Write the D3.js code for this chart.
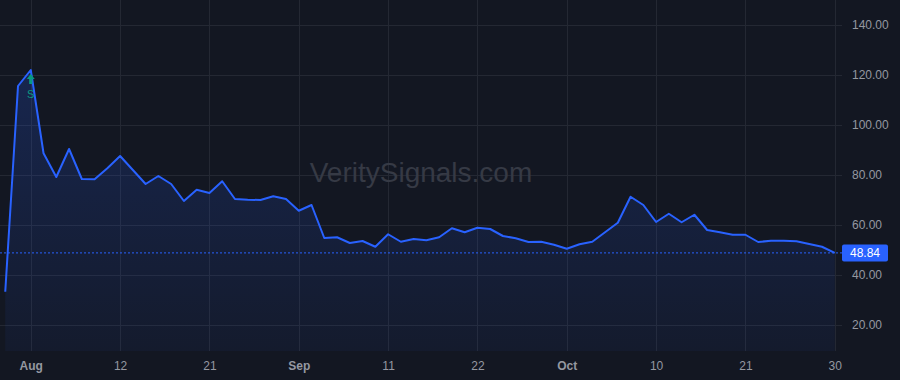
<!DOCTYPE html>
<html>
<head>
<meta charset="utf-8">
<script src="https://cdn.jsdelivr.net/npm/d3@7"></script>
<style>
  html, body { margin: 0; padding: 0; background: #131722; }
  svg { display: block; font-family: "Liberation Sans", Arial, sans-serif; }
</style>
</head>
<body>
<div id="chart"></div>
<script>
// trading days, Jul 30 – Oct 30 2025
const dates = [
  "2025-07-30", "2025-07-31",
  "2025-08-01", "2025-08-04", "2025-08-05", "2025-08-06", "2025-08-07", "2025-08-08",
  "2025-08-11", "2025-08-12", "2025-08-13", "2025-08-14", "2025-08-15",
  "2025-08-18", "2025-08-19", "2025-08-20", "2025-08-21", "2025-08-22",
  "2025-08-25", "2025-08-26", "2025-08-27", "2025-08-28", "2025-08-29",
  "2025-09-02", "2025-09-03", "2025-09-04", "2025-09-05",
  "2025-09-08", "2025-09-09", "2025-09-10", "2025-09-11", "2025-09-12",
  "2025-09-15", "2025-09-16", "2025-09-17", "2025-09-18", "2025-09-19",
  "2025-09-22", "2025-09-23", "2025-09-24", "2025-09-25", "2025-09-26",
  "2025-09-29", "2025-09-30",
  "2025-10-01", "2025-10-02", "2025-10-03",
  "2025-10-06", "2025-10-07", "2025-10-08", "2025-10-09", "2025-10-10",
  "2025-10-13", "2025-10-14", "2025-10-15", "2025-10-16", "2025-10-17",
  "2025-10-20", "2025-10-21", "2025-10-22", "2025-10-23", "2025-10-24",
  "2025-10-27", "2025-10-28", "2025-10-29", "2025-10-30"
];

const prices = [
  33.3, 115.6,
  122.0, 88.7, 79.2, 90.4, 78.4, 78.3,
  82.7, 87.6, 82.0, 76.4, 79.6,
  76.4, 69.6, 74.1, 72.8, 77.5,
  70.4, 70.1, 70.0, 71.5, 70.4,
  65.7, 68.0, 54.8, 55.1,
  52.8, 53.6, 51.3, 56.3, 53.3,
  54.4, 53.9, 55.1, 58.7, 57.1,
  58.9, 58.4, 55.6, 54.7, 53.2,
  53.3, 52.1,
  50.5, 52.3, 53.3,
  57.1, 60.9, 71.3, 68.0, 61.2,
  64.5, 61.1, 64.1, 58.0, 57.1,
  56.1, 56.1, 53.2, 53.7, 53.7,
  53.5, 52.4, 51.3, 48.84
];

const tickDates = ["2025-08-01", "2025-08-12", "2025-08-21", "2025-09-02", "2025-09-11",
                   "2025-09-22", "2025-10-01", "2025-10-10", "2025-10-21", "2025-10-30"];
const tickLabels = ["Aug", "12", "21", "Sep", "11", "22", "Oct", "10", "21", "30"];
const monthTicks = ["Aug", "Sep", "Oct"];

const priceTicks = [20, 40, 60, 80, 100, 120, 140];

const signalDate = "2025-08-01";
const signalLabel = "S";
const lastPrice = 48.84;

const width = 900;
const height = 380;
const plotRight = 842;
const plotBottom = 351;

const svg = d3.select("#chart")
  .append("svg")
  .attr("width", width)
  .attr("height", height);

svg.append("rect")
  .attr("width", width)
  .attr("height", height)
  .attr("fill", "#131722");

const x = d3.scalePoint()
  .domain(dates)
  .range([5.25, 834.75]);

const y = d3.scaleLinear()
  .domain([20, 140])
  .range([325, 25]);

const data = dates.map((d, i) => ({ date: d, value: prices[i] }));

// grid
const grid = svg.append("g");
grid.selectAll(".hgrid")
  .data(priceTicks)
  .enter()
  .append("line")
  .attr("x1", 0)
  .attr("x2", plotRight)
  .attr("y1", (d) => Math.round(y(d)) + 0.5)
  .attr("y2", (d) => Math.round(y(d)) + 0.5)
  .attr("stroke", "#242833");

grid.selectAll(".vgrid")
  .data(tickDates)
  .enter()
  .append("line")
  .attr("x1", (d) => Math.round(x(d)) + 0.5)
  .attr("x2", (d) => Math.round(x(d)) + 0.5)
  .attr("y1", 0)
  .attr("y2", plotBottom)
  .attr("stroke", "#242833");

// watermark
svg.append("text")
  .attr("x", 421)
  .attr("y", 182)
  .attr("text-anchor", "middle")
  .style("font-size", "28px")
  .style("fill", "#363a45")
  .text("VeritySignals.com");

// area
const defs = svg.append("defs");
const grad = defs.append("linearGradient")
  .attr("id", "areaGrad")
  .attr("x1", 0).attr("y1", 0)
  .attr("x2", 0).attr("y2", 1);
grad.append("stop").attr("offset", "0%").attr("stop-color", "#2962ff").attr("stop-opacity", 0.2);
grad.append("stop").attr("offset", "100%").attr("stop-color", "#2962ff").attr("stop-opacity", 0.05);

const area = d3.area()
  .x((d) => x(d.date))
  .y0(plotBottom)
  .y1((d) => y(d.value));

svg.append("path")
  .datum(data)
  .attr("fill", "url(#areaGrad)")
  .attr("d", area);

// last price dotted line
svg.append("line")
  .attr("x1", 0)
  .attr("x2", plotRight)
  .attr("y1", y(lastPrice))
  .attr("y2", y(lastPrice))
  .attr("stroke", "#2962ff")
  .attr("stroke-width", 1)
  .attr("stroke-dasharray", "2,2");

const line = d3.line()
  .x((d) => x(d.date))
  .y((d) => y(d.value));

svg.append("path")
  .datum(data)
  .attr("fill", "none")
  .attr("stroke", "#2962ff")
  .attr("stroke-width", 2)
  .attr("stroke-linejoin", "round")
  .attr("d", line);

// signal marker
const sx = x(signalDate);
const sy = y(prices[dates.indexOf(signalDate)]);
const marker = svg.append("g")
  .attr("transform", "translate(" + sx + "," + sy + ")");
marker.append("path")
  .attr("d", "M0,4 L4,9 L1.6,9 L1.6,14 L-1.6,14 L-1.6,9 L-4,9 Z")
  .attr("fill", "#089981");
marker.append("text")
  .attr("x", 0)
  .attr("y", 28)
  .attr("text-anchor", "middle")
  .style("font-size", "11px")
  .style("fill", "#089981")
  .text(signalLabel);

// y axis labels
const yAxis = svg.append("g")
  .attr("transform", "translate(" + (plotRight + 10) + ",0)")
  .call(d3.axisRight(y).tickValues(priceTicks).tickSize(0).tickPadding(0)
    .tickFormat((d) => d.toFixed(2)));
yAxis.select(".domain").remove();
yAxis.selectAll("text")
  .style("font-family", "\"Liberation Sans\", Arial, sans-serif")
  .style("font-size", "12px")
  .style("fill", "#9598a1");

// x axis labels
const xAxis = svg.append("g")
  .attr("transform", "translate(0," + plotBottom + ")")
  .call(d3.axisBottom(x).tickValues(tickDates).tickSize(0).tickPadding(10)
    .tickFormat((d, i) => tickLabels[i]));
xAxis.select(".domain").remove();
xAxis.selectAll("text")
  .style("font-family", "\"Liberation Sans\", Arial, sans-serif")
  .style("font-size", "12px")
  .style("fill", "#9598a1")
  .style("font-weight", (d, i) => monthTicks.includes(tickLabels[i]) ? "bold" : "normal");

// last price label
const ly = y(lastPrice);
svg.append("rect")
  .attr("x", plotRight)
  .attr("y", ly - 8.5)
  .attr("width", 46)
  .attr("height", 17)
  .attr("rx", 2)
  .attr("fill", "#2962ff");
svg.append("text")
  .attr("x", plotRight + 23)
  .attr("y", ly + 4.5)
  .attr("text-anchor", "middle")
  .style("font-size", "12px")
  .style("fill", "#ffffff")
  .text(lastPrice.toFixed(2));
</script>
</body>
</html>
